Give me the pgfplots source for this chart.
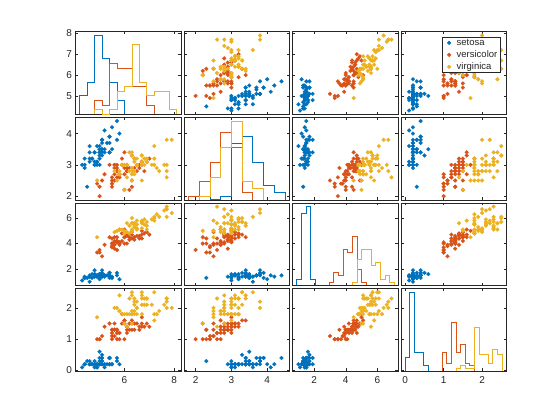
\documentclass[border=0pt]{standalone}
\usepackage{pgfplots}
\pgfplotsset{compat=1.18}
\usepackage{pgfplotstable}
\usepackage{fontspec}
\setmainfont{Liberation Sans}
\definecolor{cA}{HTML}{0072BD}
\definecolor{cB}{HTML}{D95319}
\definecolor{cC}{HTML}{EDB120}
\definecolor{ax}{HTML}{262626}

\pgfplotstableread{
SL SW PL PW
5.1 3.5 1.4 0.2
4.9 3.0 1.4 0.2
4.7 3.2 1.3 0.2
4.6 3.1 1.5 0.2
5.0 3.6 1.4 0.2
5.4 3.9 1.7 0.4
4.6 3.4 1.4 0.3
5.0 3.4 1.5 0.2
4.4 2.9 1.4 0.2
4.9 3.1 1.5 0.1
5.4 3.7 1.5 0.2
4.8 3.4 1.6 0.2
4.8 3.0 1.4 0.1
4.3 3.0 1.1 0.1
5.8 4.0 1.2 0.2
5.7 4.4 1.5 0.4
5.4 3.9 1.3 0.4
5.1 3.5 1.4 0.3
5.7 3.8 1.7 0.3
5.1 3.8 1.5 0.3
5.4 3.4 1.7 0.2
5.1 3.7 1.5 0.4
4.6 3.6 1.0 0.2
5.1 3.3 1.7 0.5
4.8 3.4 1.9 0.2
5.0 3.0 1.6 0.2
5.0 3.4 1.6 0.4
5.2 3.5 1.5 0.2
5.2 3.4 1.4 0.2
4.7 3.2 1.6 0.2
4.8 3.1 1.6 0.2
5.4 3.4 1.5 0.4
5.2 4.1 1.5 0.1
5.5 4.2 1.4 0.2
4.9 3.1 1.5 0.2
5.0 3.2 1.2 0.2
5.5 3.5 1.3 0.2
4.9 3.6 1.4 0.1
4.4 3.0 1.3 0.2
5.1 3.4 1.5 0.2
5.0 3.5 1.3 0.3
4.5 2.3 1.3 0.3
4.4 3.2 1.3 0.2
5.0 3.5 1.6 0.6
5.1 3.8 1.9 0.4
4.8 3.0 1.4 0.3
5.1 3.8 1.6 0.2
4.6 3.2 1.4 0.2
5.3 3.7 1.5 0.2
5.0 3.3 1.4 0.2
}\setosa

\pgfplotstableread{
SL SW PL PW
7.0 3.2 4.7 1.4
6.4 3.2 4.5 1.5
6.9 3.1 4.9 1.5
5.5 2.3 4.0 1.3
6.5 2.8 4.6 1.5
5.7 2.8 4.5 1.3
6.3 3.3 4.7 1.6
4.9 2.4 3.3 1.0
6.6 2.9 4.6 1.3
5.2 2.7 3.9 1.4
5.0 2.0 3.5 1.0
5.9 3.0 4.2 1.5
6.0 2.2 4.0 1.0
6.1 2.9 4.7 1.4
5.6 2.9 3.6 1.3
6.7 3.1 4.4 1.4
5.6 3.0 4.5 1.5
5.8 2.7 4.1 1.0
6.2 2.2 4.5 1.5
5.6 2.5 3.9 1.1
5.9 3.2 4.8 1.8
6.1 2.8 4.0 1.3
6.3 2.5 4.9 1.5
6.1 2.8 4.7 1.2
6.4 2.9 4.3 1.3
6.6 3.0 4.4 1.4
6.8 2.8 4.8 1.4
6.7 3.0 5.0 1.7
6.0 2.9 4.5 1.5
5.7 2.6 3.5 1.0
5.5 2.4 3.8 1.1
5.5 2.4 3.7 1.0
5.8 2.7 3.9 1.2
6.0 2.7 5.1 1.6
5.4 3.0 4.5 1.5
6.0 3.4 4.5 1.6
6.7 3.1 4.7 1.5
6.3 2.3 4.4 1.3
5.6 3.0 4.1 1.3
5.5 2.5 4.0 1.3
5.5 2.6 4.4 1.2
6.1 3.0 4.6 1.4
5.8 2.6 4.0 1.2
5.0 2.3 3.3 1.0
5.6 2.7 4.2 1.3
5.7 3.0 4.2 1.2
5.7 2.9 4.2 1.3
6.2 2.9 4.3 1.3
5.1 2.5 3.0 1.1
5.7 2.8 4.1 1.3
}\versicolor

\pgfplotstableread{
SL SW PL PW
6.3 3.3 6.0 2.5
5.8 2.7 5.1 1.9
7.1 3.0 5.9 2.1
6.3 2.9 5.6 1.8
6.5 3.0 5.8 2.2
7.6 3.0 6.6 2.1
4.9 2.5 4.5 1.7
7.3 2.9 6.3 1.8
6.7 2.5 5.8 1.8
7.2 3.6 6.1 2.5
6.5 3.2 5.1 2.0
6.4 2.7 5.3 1.9
6.8 3.0 5.5 2.1
5.7 2.5 5.0 2.0
5.8 2.8 5.1 2.4
6.4 3.2 5.3 2.3
6.5 3.0 5.5 1.8
7.7 3.8 6.7 2.2
7.7 2.6 6.9 2.3
6.0 2.2 5.0 1.5
6.9 3.2 5.7 2.3
5.6 2.8 4.9 2.0
7.7 2.8 6.7 2.0
6.3 2.7 4.9 1.8
6.7 3.3 5.7 2.1
7.2 3.2 6.0 1.8
6.2 2.8 4.8 1.8
6.1 3.0 4.9 1.8
6.4 2.8 5.6 2.1
7.2 3.0 5.8 1.6
7.4 2.8 6.1 1.9
7.9 3.8 6.4 2.0
6.4 2.8 5.6 2.2
6.3 2.8 5.1 1.5
6.1 2.6 5.6 1.4
7.7 3.0 6.1 2.3
6.3 3.4 5.6 2.4
6.4 3.1 5.5 1.8
6.0 3.0 4.8 1.8
6.9 3.1 5.4 2.1
6.7 3.1 5.6 2.4
6.9 3.1 5.1 2.3
5.8 2.7 5.1 1.9
6.8 3.2 5.9 2.3
6.7 3.3 5.7 2.5
6.7 3.0 5.2 2.3
6.3 2.5 5.0 1.9
6.5 3.0 5.2 2.0
6.2 3.4 5.4 2.3
5.9 3.0 5.1 1.8
}\virginica

\pgfplotsset{
  cell/.style={scale only axis, width=105.2pt, height=82.6pt, anchor=north west,
    axis line style={draw=ax, line width=0.55pt},
    tick style={draw=ax, line width=0.45pt},
    major tick length=2.6pt, tick align=inside,
    /pgf/number format/assume math mode=true,
    ticklabel style={font=\fontsize{10}{12}\selectfont, text=ax},
    xticklabel style={yshift=-1.5pt},
    yticklabel style={xshift=-0.3pt},
  },
  col1/.style={xmin=4.04,xmax=8.27,xtick={6,8}},
  col2/.style={xmin=1.68,xmax=4.62,xtick={2,3,4}},
  col3/.style={xmin=0.63,xmax=7.3,xtick={2,4,6}},
  col4/.style={xmin=-0.11,xmax=2.63,xtick={0,1,2}},
  row1/.style={ymin=4.12,ymax=8.08,ytick={5,6,7,8}},
  row2/.style={ymin=1.88,ymax=4.52,ytick={2,3,4}},
  row3/.style={ymin=0.705,ymax=7.195,ytick={2,4,6}},
  row4/.style={ymin=-0.02,ymax=2.62,ytick={0,1,2}},
  noxl/.style={xticklabels={}},
  noyl/.style={yticklabels={}},
  sc/.style={only marks, mark=*, mark size=1.95pt, mark options={line width=0.2pt}},
  hs/.style={const plot, line width=0.8pt, mark=none},
  dotleg/.style={legend image code/.code={\fill (4.6pt,0pt) circle (1.8pt); \path[draw=none,fill=none] (0pt,-1pt) rectangle (11pt,1pt);}},
}

% #1 x, #2 y, #3 col, #4 row, #5 xvar, #6 yvar, #7 extra
\newcommand{\scatcell}[7]{%
\begin{axis}[cell, at={(#1pt,#2pt)}, #3, #4, #7]
\addplot[sc, color=cA] table[x=#5,y=#6]{\setosa};
\addplot[sc, color=cB] table[x=#5,y=#6]{\versicolor};
\addplot[sc, color=cC] table[x=#5,y=#6]{\virginica};
\end{axis}}

\begin{document}
\begin{tikzpicture}
\fill[white] (0,0) rectangle (560pt,420pt);
\path[use as bounding box] (0,0) rectangle (560pt,420pt);

% ---------- row 1 ----------
\begin{axis}[cell, at={(75.7pt,388.3pt)}, col1, row1, noxl]
\end{axis}
\begin{axis}[cell, at={(75.7pt,388.3pt)}, hide axis, col1, ymin=0, ymax=17.85]
\addplot[hs, cA] coordinates {(4.2,0)(4.2,4)(4.5,7)(4.8,17)(5.1,12)(5.4,7)(5.7,3)(6.0,0)};
\addplot[hs, cB] coordinates {(4.8,0)(4.8,3)(5.1,2)(5.4,11)(5.7,10)(6.0,10)(6.3,6)(6.6,6)(6.9,2)(7.2,0)};
\addplot[hs, cC] coordinates {(4.8,0)(4.8,1)(5.1,0)(5.4,1)(5.7,5)(6.0,6)(6.3,15)(6.6,7)(6.9,4)(7.2,5)(7.5,5)(7.8,1)(8.1,0)};
\end{axis}
\scatcell{184.15}{388.3}{col2}{row1}{SW}{SL}{noxl,noyl}
\scatcell{292.6}{388.3}{col3}{row1}{PL}{SL}{noxl,noyl}
\begin{axis}[cell, at={(401.05pt,388.3pt)}, col4, row1, noxl, noyl,
  legend style={at={(0.947,0.9395)}, anchor=north east, draw=ax, line width=0.5pt,
    fill=white, font=\fontsize{9.5}{10}\selectfont, inner xsep=2pt, inner ysep=0.3pt,
    row sep=0.8pt, nodes={inner sep=1.1pt, text=ax, text height=7pt, text depth=2pt}},
  legend cell align=left]
\addplot[sc, color=cA, dotleg] table[x=PW,y=SL]{\setosa};
\addplot[sc, color=cB, dotleg] table[x=PW,y=SL]{\versicolor};
\addplot[sc, color=cC, dotleg] table[x=PW,y=SL]{\virginica};
\legend{setosa,versicolor,virginica}
\end{axis}

% ---------- row 2 ----------
\scatcell{75.7}{302.7}{col1}{row2}{SL}{SW}{noxl}
\begin{axis}[cell, at={(184.15pt,302.7pt)}, col2, row2, noxl, noyl]
\end{axis}
\begin{axis}[cell, at={(184.15pt,302.7pt)}, hide axis, col2, ymin=0, ymax=22.05]
\addplot[hs, cA] coordinates {(2.1,0)(2.1,1)(2.4,0)(2.7,1)(3.0,15)(3.3,17)(3.6,10)(3.9,4)(4.2,2)(4.5,0)};
\addplot[hs, cB] coordinates {(1.8,0)(1.8,1)(2.1,5)(2.4,10)(2.7,18)(3.0,14)(3.3,2)(3.6,0)};
\addplot[hs, cC] coordinates {(2.1,0)(2.1,1)(2.4,6)(2.7,14)(3.0,21)(3.3,5)(3.6,3)(3.9,0)};
\end{axis}
\scatcell{292.6}{302.7}{col3}{row2}{PL}{SW}{noxl,noyl}
\scatcell{401.05}{302.7}{col4}{row2}{PW}{SW}{noxl,noyl}

% ---------- row 3 ----------
\scatcell{75.7}{217.1}{col1}{row3}{SL}{PL}{noxl}
\scatcell{184.15}{217.1}{col2}{row3}{SW}{PL}{noxl,noyl}
\begin{axis}[cell, at={(292.6pt,217.1pt)}, col3, row3, noxl, noyl]
\end{axis}
\begin{axis}[cell, at={(292.6pt,217.1pt)}, hide axis, col3, ymin=0, ymax=25.2]
\addplot[hs, cA] coordinates {(0.885,0)(0.885,2)(1.18,22)(1.475,24)(1.77,2)(2.065,0)};
\addplot[hs, cB] coordinates {(2.95,0)(2.95,1)(3.245,4)(3.54,3)(3.835,11)(4.13,10)(4.425,15)(4.72,5)(5.015,1)(5.31,0)};
\addplot[hs, cC] coordinates {(4.425,0)(4.425,1)(4.72,8)(5.015,11)(5.31,11)(5.605,6)(5.9,7)(6.195,2)(6.49,3)(6.785,1)(7.08,0)};
\end{axis}
\scatcell{401.05}{217.1}{col4}{row3}{PW}{PL}{noxl,noyl}

% ---------- row 4 ----------
\scatcell{75.7}{131.5}{col1}{row4}{SL}{PW}{}
\scatcell{184.15}{131.5}{col2}{row4}{SW}{PW}{noyl}
\scatcell{292.6}{131.5}{col3}{row4}{PL}{PW}{noyl}
\begin{axis}[cell, at={(401.05pt,131.5pt)}, col4, row4, noyl]
\end{axis}
\begin{axis}[cell, at={(401.05pt,131.5pt)}, hide axis, col4, ymin=0, ymax=30.45]
\addplot[hs, cA] coordinates {(0,0)(0,5)(0.12,29)(0.24,7)(0.36,7)(0.48,2)(0.6,0)};
\addplot[hs, cB] coordinates {(0.96,0)(0.96,7)(1.08,3)(1.2,18)(1.32,7)(1.44,10)(1.56,3)(1.68,2)(1.8,0)};
\addplot[hs, cC] coordinates {(1.32,0)(1.32,1)(1.44,2)(1.56,1)(1.68,1)(1.8,16)(1.92,6)(2.04,6)(2.16,3)(2.28,8)(2.4,6)(2.52,0)};
\end{axis}
\end{tikzpicture}
\end{document}
